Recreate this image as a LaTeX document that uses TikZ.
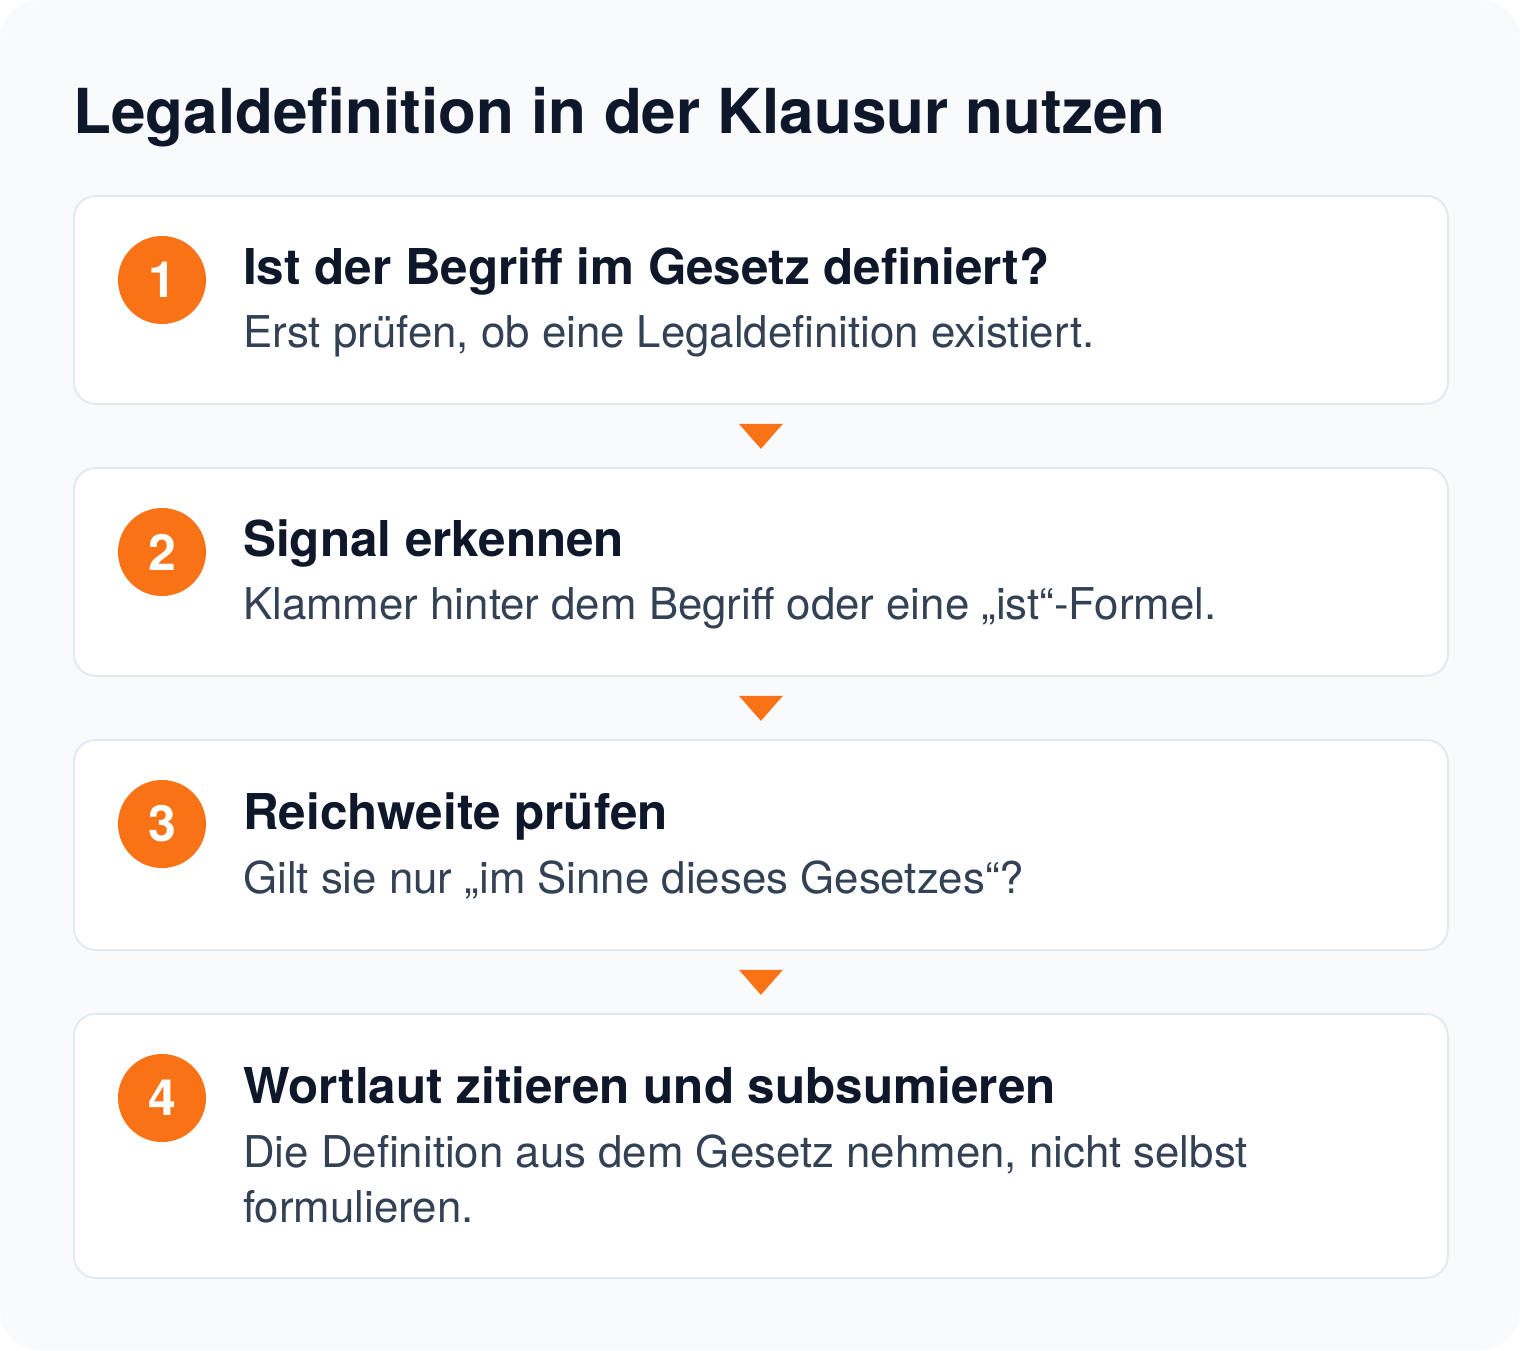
\documentclass[tikz,border=0pt]{standalone}
\usepackage{fontspec}
\setmainfont{TeX Gyre Heros}
\usetikzlibrary{calc}
\definecolor{pagebg}{HTML}{F8FAFC}
\definecolor{cardborder}{HTML}{E2E8F0}
\definecolor{accent}{HTML}{F97316}
\definecolor{titlecol}{HTML}{0F172A}
\definecolor{bodycol}{HTML}{334155}
\tikzset{
  cardbox/.style={draw=cardborder, line width=1.8pt, fill=white, rounded corners=22pt,
    minimum width=1374pt, anchor=north west, inner sep=0pt},
  numdot/.style={circle, fill=accent, text=white, minimum size=88pt, inner sep=0pt,
    font=\fontsize{50}{54}\selectfont\bfseries},
  headtxt/.style={anchor=base west, inner sep=0pt, text=titlecol,
    font=\fontsize{49.4}{58}\selectfont\bfseries},
  bodytxt/.style={anchor=base west, inner sep=0pt, text=bodycol,
    font=\fontsize{43.8}{55}\selectfont},
  tri/.style={fill=accent}
}
\begin{document}
\begin{tikzpicture}[x=1pt,y=-1pt]
\useasboundingbox (0,0) rectangle (1520,1350);
\fill[white] (0,0) rectangle (1520,1350);
\fill[pagebg, rounded corners=40pt] (0,0) rectangle (1520,1350);

\node[anchor=base west, inner sep=0pt, text=titlecol, font=\fontsize{62}{72}\selectfont\bfseries]
  (title) at (73,133) {Legaldefinition in der Klausur nutzen};

% cards
\node[cardbox, minimum height=208pt] (c1) at (73,195) {};
\node[cardbox, minimum height=208pt] (c2) at (73,467) {};
\node[cardbox, minimum height=210pt] (c3) at (73,739) {};
\node[cardbox, minimum height=264pt] (c4) at (73,1013) {};

% triangles between cards
\foreach \c in {c1,c2,c3}{
  \fill[tri] ($(\c.south)+(-22,19)$) -- ++(44,0) -- ++(-22,25) -- cycle;
}

% numbers
\node[numdot] (n1) at (162,280) {1};
\node[numdot] (n2) at (162,552) {2};
\node[numdot] (n3) at (162,824) {3};
\node[numdot] (n4) at (162,1098) {4};

% headings
\node[headtxt] (h1) at (243,284) {Ist der Begriff im Gesetz definiert?};
\node[headtxt] (h2) at (243,556) {Signal erkennen};
\node[headtxt] (h3) at (243,829) {Reichweite prüfen};
\node[headtxt] (h4) at (243,1103) {Wortlaut zitieren und subsumieren};

% bodies
\node[bodytxt] (b1) at (243,347) {Erst prüfen, ob eine Legaldefinition existiert.};
\node[bodytxt] (b2) at (243,619) {Klammer hinter dem Begriff oder eine „ist“-Formel.};
\node[bodytxt] (b3) at (243,893) {Gilt sie nur „im Sinne dieses Gesetzes“?};
\node[bodytxt] (b4) at (243,1167) {Die Definition aus dem Gesetz nehmen, nicht selbst};
\node[bodytxt] (b4b) at (243,1222) {formulieren.};
\end{tikzpicture}
\end{document}
